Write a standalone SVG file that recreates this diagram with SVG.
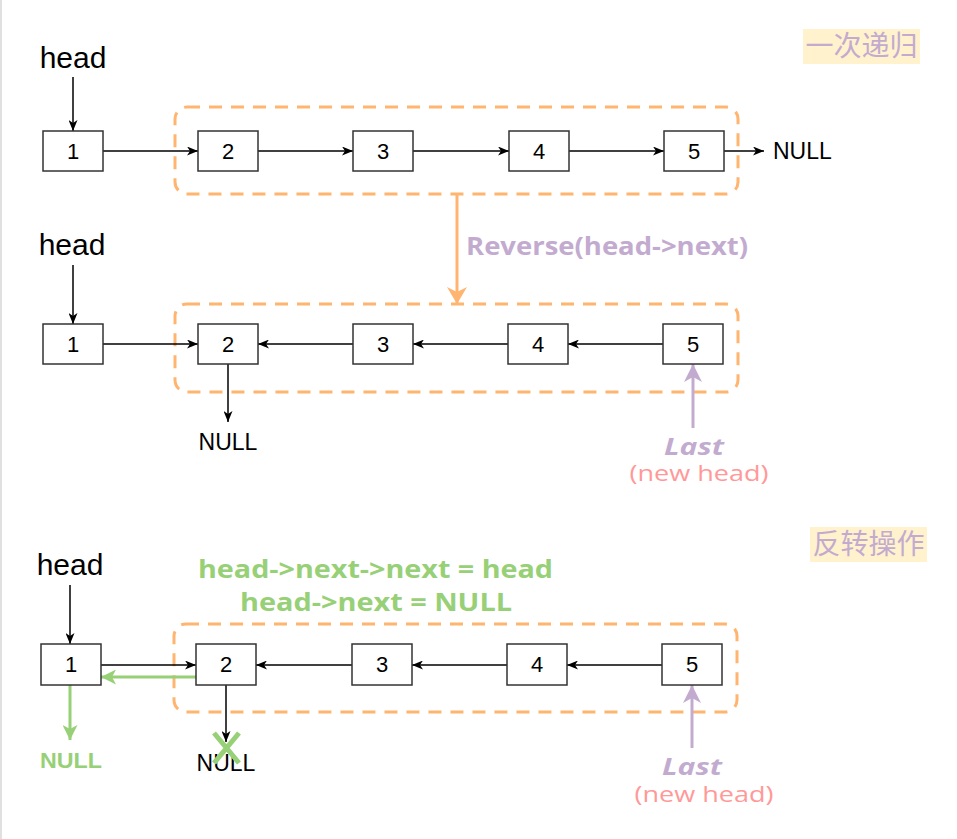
<svg xmlns="http://www.w3.org/2000/svg" width="957" height="839" viewBox="0 0 957 839">
<style>
.box{fill:#fff;stroke:#333;stroke-width:1.5}
.num{font-family:"Liberation Sans",Arial,sans-serif;font-size:22px;fill:#000;text-anchor:middle}
.head{font-family:"Liberation Sans",Arial,sans-serif;font-size:30px;fill:#000;text-anchor:middle}
.null{font-family:"Liberation Sans",Arial,sans-serif;font-size:23px;fill:#000}
.grp{fill:none;stroke:#FFB570;stroke-width:3;stroke-dasharray:13 9}
.blk{stroke:#000;stroke-width:1.5;fill:none;marker-end:url(#ab)}
.cn{font-family:"Noto Sans CJK SC",sans-serif;font-size:28px;fill:#C3ABD0;text-anchor:middle}
.lbl{fill:#FFF2CC}
.comic{font-family:"Open Sans","DejaVu Sans",sans-serif;font-weight:bold}
.nh{font-family:"Open Sans","DejaVu Sans",sans-serif;font-size:21px;fill:#FF9999;text-anchor:middle}
</style>
<defs>
<marker id="ab" markerUnits="userSpaceOnUse" markerWidth="11" markerHeight="9" refX="11" refY="4.5" orient="auto"><path d="M0,0 L11,4.5 L0,9 L3,4.5 z" fill="#000"/></marker>
<marker id="ao" markerUnits="userSpaceOnUse" markerWidth="17" markerHeight="20" refX="17" refY="10" orient="auto"><path d="M0,0 L17,10 L0,20 L5,10 z" fill="#FFB570"/></marker>
<marker id="ap" markerUnits="userSpaceOnUse" markerWidth="18" markerHeight="18" refX="18" refY="9" orient="auto"><path d="M0,0 L18,9 L0,18 L5,9 z" fill="#C3ABD0"/></marker>
<marker id="ag" markerUnits="userSpaceOnUse" markerWidth="15" markerHeight="15" refX="15" refY="7.5" orient="auto"><path d="M0,0 L15,7.5 L0,15 L4,7.5 z" fill="#97D077"/></marker>
</defs>
<rect x="0" y="0" width="957" height="839" fill="#fff"/>
<line x1="1" y1="0" x2="1" y2="839" stroke="#e0e0e0" stroke-width="2"/>

<g id="frames">
<rect class="grp" x="175" y="107" width="563" height="87" rx="12"/>
<rect class="grp" x="175" y="304" width="563" height="88" rx="12"/>
<rect class="grp" x="174" y="624" width="563" height="88" rx="12"/>
</g>

<g id="connectors">
<line class="blk" x1="73" y1="77" x2="73" y2="131"/>
<line class="blk" x1="103" y1="151" x2="198" y2="151"/>
<line class="blk" x1="258" y1="151" x2="353" y2="151"/>
<line class="blk" x1="413" y1="151" x2="509" y2="151"/>
<line class="blk" x1="569" y1="151" x2="664" y2="151"/>
<line class="blk" x1="724" y1="151" x2="764" y2="151"/>
<line x1="457" y1="194" x2="457" y2="304" stroke="#FFB570" stroke-width="3" marker-end="url(#ao)"/>
<line class="blk" x1="73" y1="265" x2="73" y2="324"/>
<line class="blk" x1="103" y1="344" x2="198" y2="344"/>
<line class="blk" x1="353" y1="344" x2="258" y2="344"/>
<line class="blk" x1="508" y1="344" x2="413" y2="344"/>
<line class="blk" x1="663" y1="344" x2="568" y2="344"/>
<line class="blk" x1="228" y1="364" x2="228" y2="422"/>
<line x1="693" y1="428" x2="693" y2="364" stroke="#C3ABD0" stroke-width="3" marker-end="url(#ap)"/>
<line class="blk" x1="70" y1="585" x2="70" y2="644"/>
<line class="blk" x1="101" y1="665" x2="196" y2="665"/>
<line class="blk" x1="352" y1="665" x2="256" y2="665"/>
<line class="blk" x1="507" y1="665" x2="412" y2="665"/>
<line class="blk" x1="662" y1="665" x2="567" y2="665"/>
<line class="blk" x1="226" y1="685" x2="226" y2="742"/>
<line x1="196" y1="677" x2="101" y2="677" stroke="#97D077" stroke-width="3" marker-end="url(#ag)"/>
<line x1="70" y1="685" x2="70" y2="740" stroke="#97D077" stroke-width="3" marker-end="url(#ag)"/>
<line x1="692" y1="748" x2="692" y2="685" stroke="#C3ABD0" stroke-width="3" marker-end="url(#ap)"/>
</g>

<g id="r1n1"><rect class="box" x="43" y="131" width="60" height="40"/><text class="num" x="73" y="159">1</text></g>
<g id="r1n2"><rect class="box" x="198" y="131" width="60" height="40"/><text class="num" x="228" y="159">2</text></g>
<g id="r1n3"><rect class="box" x="353" y="131" width="60" height="40"/><text class="num" x="383" y="159">3</text></g>
<g id="r1n4"><rect class="box" x="509" y="131" width="60" height="40"/><text class="num" x="539" y="159">4</text></g>
<g id="r1n5"><rect class="box" x="664" y="131" width="60" height="40"/><text class="num" x="694" y="159">5</text></g>
<g id="r1head"><text class="head" x="73" y="68">head</text></g>
<g id="r1null"><text class="null" x="773" y="159">NULL</text></g>
<g id="label1"><rect class="lbl" x="803" y="29" width="117" height="35"/><text class="cn" x="861.5" y="56">一次递归</text></g>
<g id="reverseLabel"><text class="comic" x="466" y="255" font-size="25" fill="#C3ABD0" textLength="282" lengthAdjust="spacingAndGlyphs">Reverse(head-&gt;next)</text></g>

<g id="r2n1"><rect class="box" x="43" y="324" width="60" height="40"/><text class="num" x="73" y="352">1</text></g>
<g id="r2n2"><rect class="box" x="198" y="324" width="60" height="40"/><text class="num" x="228" y="352">2</text></g>
<g id="r2n3"><rect class="box" x="353" y="324" width="60" height="40"/><text class="num" x="383" y="352">3</text></g>
<g id="r2n4"><rect class="box" x="508" y="324" width="60" height="40"/><text class="num" x="538" y="352">4</text></g>
<g id="r2n5"><rect class="box" x="663" y="324" width="60" height="40"/><text class="num" x="693" y="352">5</text></g>
<g id="r2head"><text class="head" x="72" y="255">head</text></g>
<g id="r2null"><text class="null" x="228" y="450" text-anchor="middle">NULL</text></g>
<g id="r2last">
<text class="comic" x="694" y="455" font-size="23" font-style="italic" fill="#C3ABD0" text-anchor="middle" textLength="60" lengthAdjust="spacingAndGlyphs">Last</text>
<text class="nh" x="699" y="481" textLength="139" lengthAdjust="spacingAndGlyphs">(new head)</text>
</g>

<g id="r3n1"><rect class="box" x="41" y="644" width="60" height="41"/><text class="num" x="71" y="672">1</text></g>
<g id="r3n2"><rect class="box" x="196" y="644" width="60" height="41"/><text class="num" x="226" y="672">2</text></g>
<g id="r3n3"><rect class="box" x="352" y="644" width="60" height="41"/><text class="num" x="382" y="672">3</text></g>
<g id="r3n4"><rect class="box" x="507" y="644" width="60" height="41"/><text class="num" x="537" y="672">4</text></g>
<g id="r3n5"><rect class="box" x="662" y="644" width="60" height="41"/><text class="num" x="692" y="672">5</text></g>
<g id="r3head"><text class="head" x="70" y="575">head</text></g>
<g id="r3null"><text class="null" x="226" y="771" text-anchor="middle">NULL</text></g>
<g id="r3cross"><path d="M214,733 L239,763 M239,733 L214,763" stroke="#97D077" stroke-width="5" fill="none"/></g>
<g id="r3greennull"><text x="71" y="768" font-family="'Liberation Sans',Arial,sans-serif" font-weight="bold" font-size="22" fill="#97D077" text-anchor="middle" textLength="62" lengthAdjust="spacingAndGlyphs">NULL</text></g>
<g id="code">
<text class="comic" x="198" y="578" font-size="25" fill="#97D077" textLength="355" lengthAdjust="spacingAndGlyphs">head-&gt;next-&gt;next = head</text>
<text class="comic" x="240" y="611" font-size="25" fill="#97D077" textLength="272" lengthAdjust="spacingAndGlyphs">head-&gt;next = NULL</text>
</g>
<g id="r3last">
<text class="comic" x="692" y="775" font-size="23" font-style="italic" fill="#C3ABD0" text-anchor="middle" textLength="60" lengthAdjust="spacingAndGlyphs">Last</text>
<text class="nh" x="704" y="802" textLength="139" lengthAdjust="spacingAndGlyphs">(new head)</text>
</g>
<g id="label2"><rect class="lbl" x="810" y="527" width="117" height="35"/><text class="cn" x="868.5" y="554">反转操作</text></g>
</svg>
